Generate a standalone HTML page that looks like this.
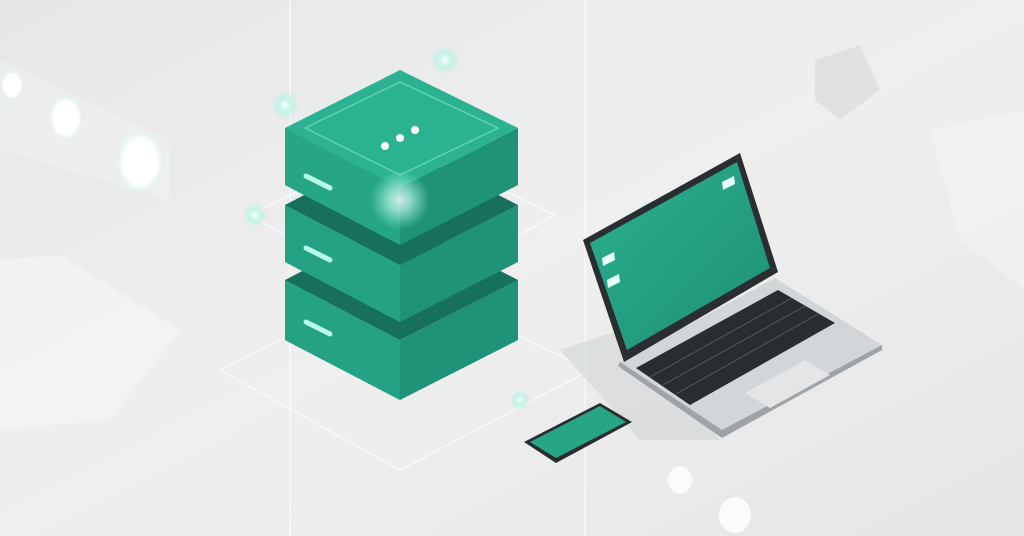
<!DOCTYPE html>
<html><head><meta charset="utf-8"><style>html,body{margin:0;padding:0;width:1024px;height:536px;overflow:hidden;background:#e9eaeb}</style></head>
<body>
<svg width="1024" height="536" viewBox="0 0 1024 536" xmlns="http://www.w3.org/2000/svg">
<defs>
<linearGradient id="bg" x1="0" y1="0" x2="1" y2="1">
<stop offset="0" stop-color="#e6e7e8"/><stop offset="0.5" stop-color="#efeff0"/><stop offset="1" stop-color="#e5e6e7"/></linearGradient>
<radialGradient id="glow"><stop offset="0" stop-color="#fff"/><stop offset="0.4" stop-color="#bff7ea" stop-opacity="0.8"/><stop offset="1" stop-color="#8ff0d8" stop-opacity="0"/></radialGradient>
<radialGradient id="oval"><stop offset="0" stop-color="#fff"/><stop offset="0.7" stop-color="#fff"/><stop offset="1" stop-color="#c9f5ea" stop-opacity="0"/></radialGradient>
<linearGradient id="scr" x1="0" y1="0" x2="1" y2="1"><stop offset="0" stop-color="#2bb08f"/><stop offset="1" stop-color="#1e8f75"/></linearGradient>
</defs>
<rect width="1024" height="536" fill="url(#bg)"/>
<polygon points="0,260 60,255 180,330 110,420 0,430" fill="#f7f7f7" opacity="0.6"/>
<polygon points="930,130 1024,110 1024,290 960,240" fill="#f6f6f6" opacity="0.5"/>
<polygon points="815,60 860,45 880,90 840,120 815,100" fill="#e0e1e3"/>
<polygon points="0,60 170,140 170,200 0,150" fill="#f5f6f6" opacity="0.4"/>
<g stroke="#fff" stroke-width="1" fill="none" opacity="0.9">
<line x1="290" y1="0" x2="290" y2="536"/>
<line x1="585" y1="0" x2="585" y2="536"/>
<polygon points="220,370 400,280 590,370 400,470"/>
<polygon points="250,215 400,140 555,215 400,300"/>
</g>
<ellipse cx="12" cy="85" rx="12" ry="16" fill="url(#oval)"/>
<ellipse cx="66" cy="118" rx="18" ry="24" fill="url(#oval)"/>
<ellipse cx="140" cy="162" rx="25" ry="33" fill="url(#oval)"/>
<ellipse cx="680" cy="480" rx="12" ry="14" fill="#fff" opacity="0.8"/>
<ellipse cx="735" cy="515" rx="16" ry="18" fill="#fff" opacity="0.8"/>
<g>
<polygon points="285,280 285,340 400,400 518,340 518,280 400,340" fill="#1f9278"/>
<polygon points="285,280 285,340 400,400 400,340" fill="#25a184"/>
<polygon points="285,280 400,220 518,280 400,340" fill="#17705b"/>
<line x1="306" y1="322" x2="330" y2="334" stroke="#b8fbe8" stroke-width="5" stroke-linecap="round"/>
<polygon points="285,205 285,262 400,322 518,262 518,205 400,265" fill="#1f9278"/>
<polygon points="285,205 285,262 400,322 400,265" fill="#25a184"/>
<polygon points="285,205 400,145 518,205 400,265" fill="#17705b"/>
<line x1="306" y1="248" x2="330" y2="260" stroke="#b8fbe8" stroke-width="5" stroke-linecap="round"/>
<polygon points="285,128 285,185 400,245 518,185 518,128 400,188" fill="#1f9278"/>
<polygon points="285,128 285,185 400,245 400,188" fill="#27a686"/>
<polygon points="285,128 400,70 518,128 400,188" fill="#2bb291"/>
<polygon points="305,128 400,82 498,128 400,175" fill="none" stroke="#5fd2b5" stroke-width="1.5"/>
<line x1="306" y1="176" x2="330" y2="188" stroke="#b8fbe8" stroke-width="5" stroke-linecap="round"/>
<circle cx="385" cy="146" r="4" fill="#fff"/><circle cx="400" cy="138" r="4" fill="#fff"/><circle cx="415" cy="130" r="4" fill="#fff"/>
</g>
<circle cx="400" cy="200" r="30" fill="url(#glow)" opacity="0.8"/>
<circle cx="285" cy="105" r="14" fill="url(#glow)"/>
<circle cx="255" cy="215" r="12" fill="url(#glow)"/>
<circle cx="445" cy="60" r="14" fill="url(#glow)"/>
<circle cx="520" cy="400" r="10" fill="url(#glow)"/>
<circle cx="745" cy="240" r="18" fill="url(#glow)"/>
<circle cx="650" cy="212" r="12" fill="url(#glow)"/>
<polygon points="560,350 620,330 720,440 640,440" fill="#d6d8d9" opacity="0.7"/>
<polygon points="620,362 775,278 882,345 722,436" fill="#d3d6d8"/>
<polygon points="620,362 722,430 882,345 882,350 722,438 618,366" fill="#9ea3a7"/>
<polygon points="636,368 778,290 835,323 690,405" fill="#2a2d30"/>
<g stroke="#5a5e62" stroke-width="0.8">
<line x1="650" y1="377" x2="792" y2="298"/><line x1="663" y1="385" x2="805" y2="306"/><line x1="676" y1="394" x2="818" y2="314"/>
</g>
<polygon points="745,393 805,360 830,375 770,408" fill="#e3e5e6"/>
<polygon points="583,240 740,153 778,272 624,362" fill="#2b2e30"/>
<polygon points="590,243 737,162 770,268 627,350" fill="url(#scr)"/>
<polygon points="602,258 614,252 615,260 603,266" fill="#e8fff9"/>
<polygon points="607,280 619,274 620,282 608,288" fill="#e8fff9"/>
<polygon points="722,182 734,176 735,184 723,190" fill="#e8fff9"/>
<polygon points="524,442 600,403 632,422 556,463" fill="#2a2d30"/>
<polygon points="530,442 600,406 626,422 556,458" fill="#27a686"/>
</svg>
</body></html>
